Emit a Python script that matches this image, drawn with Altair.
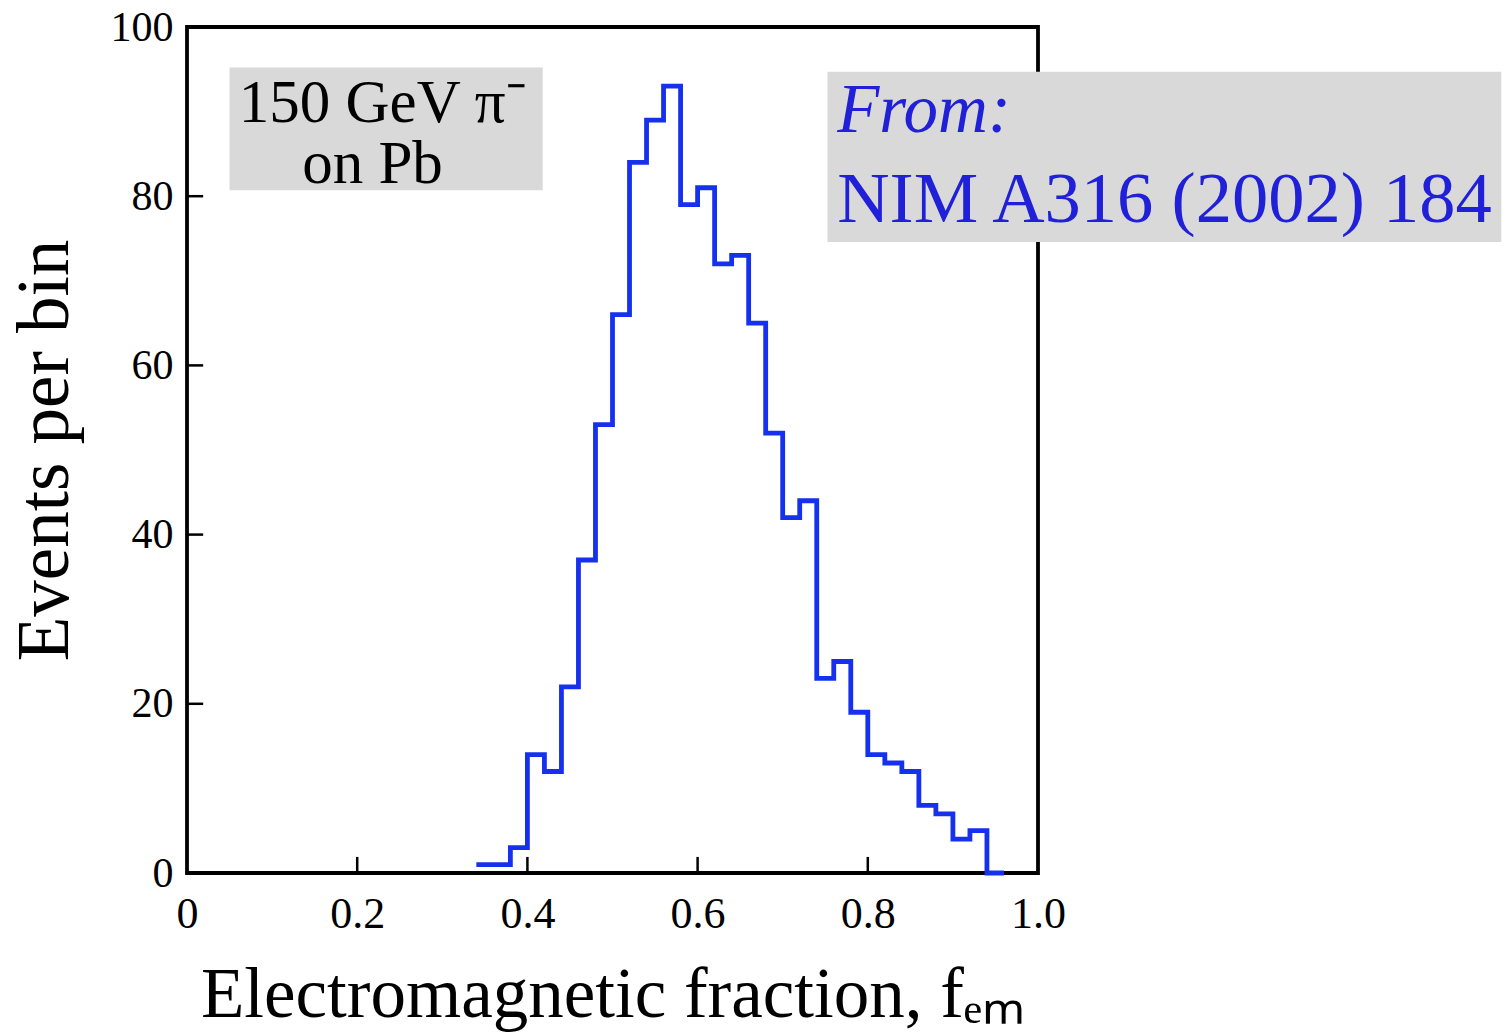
import altair as alt
import pandas as pd

# Histogram of the electromagnetic fraction f_em (bin width 0.02)
bin_low = [0.34, 0.36, 0.38, 0.40, 0.42, 0.44, 0.46, 0.48, 0.50, 0.52,
           0.54, 0.56, 0.58, 0.60, 0.62, 0.64, 0.66, 0.68, 0.70, 0.72,
           0.74, 0.76, 0.78, 0.80, 0.82, 0.84, 0.86, 0.88, 0.90, 0.92,
           0.94]
counts = [1, 1, 3, 14, 12, 22, 37, 53, 66, 84,
          89, 93, 79, 81, 72, 73, 65, 52, 42, 44,
          23, 25, 19, 14, 13, 12, 8, 7, 4, 5,
          0]
bin_width = 0.02

x_ticks = [0.0, 0.2, 0.4, 0.6, 0.8, 1.0]
y_ticks = [0, 20, 40, 60, 80, 100]
inner_x_ticks = [0.2, 0.4, 0.6, 0.8]
inner_y_ticks = [20, 40, 60, 80]

beam_lines = ["150 GeV π⁻", "on Pb"]
ref_lines = ["From:", "NIM A316 (2002) 184"]

SERIF = "Liberation Serif"
BLUE = "#1531ee"
TEXT_BLUE = "#2020d8"
GRAY = "#d9d9d9"

W, H = 851, 846
LEFT, TOP = 187, 27

xs = alt.Scale(domain=[0, 1], nice=False, zero=False)
ys = alt.Scale(domain=[0, 100], nice=False, zero=False)

# step outline: each bin's lower edge, closed by the upper edge of the last bin
hist = pd.DataFrame({
    "f": bin_low + [bin_low[-1] + bin_width],
    "n": counts + [counts[-1]],
})

frame_df = pd.DataFrame({"x0": [0.0], "x1": [1.0], "y0": [0], "y1": [100]})

x_axis = alt.Axis(
    values=x_ticks, domain=False, ticks=False, grid=False,
    labelExpr="datum.value == 0 ? '0' : format(datum.value, '.1f')",
    labelFont=SERIF, labelFontSize=44, labelColor="black", labelPadding=19,
    labelFlush=False,
    title="Electromagnetic fraction, fₑₘ", titleFont=SERIF, titleFontSize=71,
    titleFontWeight="normal", titleColor="black", titlePadding=24,
)
y_axis = alt.Axis(
    values=y_ticks, domain=False, ticks=False, grid=False,
    labelFont=SERIF, labelFontSize=42, labelColor="black", labelPadding=14,
    title="Events per bin", titleFont=SERIF, titleFontSize=73,
    titleFontWeight="normal", titleColor="black", titlePadding=28,
)

frame = alt.Chart(frame_df).mark_rect(
    filled=False, stroke="black", strokeWidth=3.8
).encode(
    x=alt.X("x0:Q", scale=xs, axis=x_axis),
    x2="x1:Q",
    y=alt.Y("y0:Q", scale=ys, axis=y_axis),
    y2="y1:Q",
)

xtick_df = pd.DataFrame({"t": inner_x_ticks, "a": [0] * 4, "b": [1.9] * 4})
xtick = alt.Chart(xtick_df).mark_rule(color="black", strokeWidth=2.5).encode(
    x=alt.X("t:Q", scale=xs), y=alt.Y("a:Q", scale=ys), y2="b:Q"
)
ytick_df = pd.DataFrame({"t": inner_y_ticks, "a": [0.0] * 4, "b": [0.019] * 4})
ytick = alt.Chart(ytick_df).mark_rule(color="black", strokeWidth=2.5).encode(
    y=alt.Y("t:Q", scale=ys), x=alt.X("a:Q", scale=xs), x2="b:Q"
)

line = alt.Chart(hist).mark_line(
    interpolate="step-after", color=BLUE, strokeWidth=4.8
).encode(
    x=alt.X("f:Q", scale=xs), y=alt.Y("n:Q", scale=ys)
)

box1_df = pd.DataFrame({"x0": [0.05], "x1": [0.418], "y0": [80.7], "y1": [95.2]})
box1 = alt.Chart(box1_df).mark_rect(color=GRAY).encode(
    x=alt.X("x0:Q", scale=xs), x2="x1:Q",
    y=alt.Y("y0:Q", scale=ys), y2="y1:Q",
)
beam_df = pd.DataFrame({"txt": beam_lines, "x": [0.230, 0.218], "y": [88.8, 81.6]})
beam = alt.Chart(beam_df).mark_text(
    font=SERIF, fontSize=61, color="black", align="center", baseline="alphabetic"
).encode(
    x=alt.X("x:Q", scale=xs), y=alt.Y("y:Q", scale=ys), text="txt:N"
)

box2_df = pd.DataFrame({"x0": [0.7526], "x1": [1.5444], "y0": [74.6], "y1": [94.7]})
box2 = alt.Chart(box2_df).mark_rect(color=GRAY).encode(
    x=alt.X("x0:Q", scale=xs), x2="x1:Q",
    y=alt.Y("y0:Q", scale=ys), y2="y1:Q",
)
ref_from = alt.Chart(pd.DataFrame({"txt": [ref_lines[0]], "x": [0.764], "y": [87.6]})).mark_text(
    font=SERIF, fontSize=69, fontStyle="italic", color=TEXT_BLUE,
    align="left", baseline="alphabetic"
).encode(x=alt.X("x:Q", scale=xs), y=alt.Y("y:Q", scale=ys), text="txt:N")
ref_cite = alt.Chart(pd.DataFrame({"txt": [ref_lines[1]], "x": [0.764], "y": [76.9]})).mark_text(
    font=SERIF, fontSize=72.5, color=TEXT_BLUE, align="left", baseline="alphabetic"
).encode(x=alt.X("x:Q", scale=xs), y=alt.Y("y:Q", scale=ys), text="txt:N")

chart = alt.layer(
    frame, xtick, ytick, line, box1, beam, box2, ref_from, ref_cite
).properties(
    width=W, height=H,
    autosize=alt.AutoSizeParams(type="none"),
    padding={"left": LEFT, "top": TOP, "right": 1506 - LEFT - W, "bottom": 1036 - TOP - H},
).configure_view(stroke=None).configure(background="white")

chart.save("out.html", embed_options={"renderer": "svg", "actions": False})
